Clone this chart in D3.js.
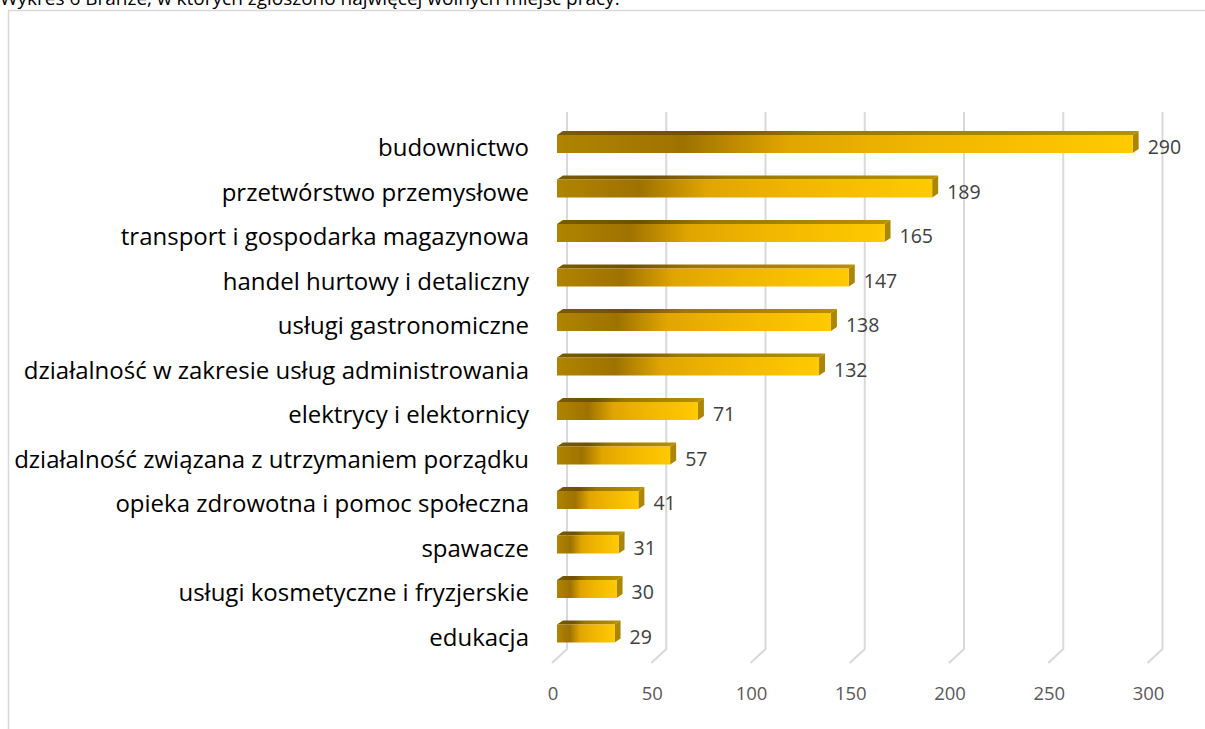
<!DOCTYPE html>
<html>
<head>
<meta charset="utf-8">
<script src="https://cdn.jsdelivr.net/npm/d3@7"></script>
<style>
	body { margin: 0; background: #fff; }
	svg { display: block; }
</style>
</head>
<body>
<svg class="chart"></svg>
<script>
var title = "Wykres 6 Branże, w których zgłoszono najwięcej wolnych miejsc pracy.";

var categories = [
	"budownictwo",
	"przetwórstwo przemysłowe",
	"transport i gospodarka  magazynowa",
	"handel hurtowy i detaliczny",
	"usługi gastronomiczne",
	"działalność w zakresie usług administrowania",
	"elektrycy i elektornicy",
	"działalność związana z utrzymaniem porządku",
	"opieka zdrowotna i pomoc społeczna",
	"spawacze",
	"usługi kosmetyczne i fryzjerskie",
	"edukacja"
];

var values = [290, 189, 165, 147, 138, 132, 71, 57, 41, 31, 30, 29];

var tickValues = [0, 50, 100, 150, 200, 250, 300];

var width = 1205;
var height = 729;
var font = "'Open Sans', 'Liberation Sans', sans-serif";

var svg = d3.select(".chart")
	.attr("width", width)
	.attr("height", height);

// title, mostly cut off by the top edge
svg.append("text")
	.attr("x", 0)
	.attr("y", 5)
	.attr("font-family", font)
	.attr("font-size", 19)
	.attr("fill", "#000")
	.text(title);

// chart frame
svg.append("rect")
	.attr("x", 8.5)
	.attr("y", 10.5)
	.attr("width", width)
	.attr("height", height)
	.attr("fill", "none")
	.attr("stroke", "#d9d9d9")
	.attr("stroke-width", 1.5);

var x = d3.scaleLinear()
	.domain([0, 300])
	.range([557, 1152.5]);

var y = d3.scaleBand()
	.domain(categories)
	.range([121.75, 655.75]);

var barH = 18;
var depthX = 6, depthY = -4;
var gridTop = 112, gridBack = 649, gridFront = 663;

var defs = svg.append("defs");

var front = defs.append("linearGradient").attr("id", "front");
[["0%", "#b08400"], ["22%", "#9e7200"], ["40%", "#e0a500"], ["62%", "#f0b500"], ["100%", "#ffca00"]]
	.forEach(function(s) { front.append("stop").attr("offset", s[0]).attr("stop-color", s[1]); });

var topG = defs.append("linearGradient").attr("id", "top");
[["0%", "#7a5a00"], ["25%", "#6e5000"], ["45%", "#9c7600"], ["100%", "#b89000"]]
	.forEach(function(s) { topG.append("stop").attr("offset", s[0]).attr("stop-color", s[1]); });

// gridlines: back wall plus floor diagonal
var grid = svg.append("g").attr("class", "grid")
	.attr("stroke", "#d9d9d9")
	.attr("stroke-width", 2)
	.attr("fill", "none");

grid.selectAll("path")
	.data(tickValues)
	.enter()
	.append("path")
		.attr("d", function(d) {
			var bx = x(d) + 10;
			return "M" + bx + "," + gridTop + "V" + gridBack + "L" + (bx - 15) + "," + gridFront;
		});

// tick labels
svg.append("g")
	.selectAll("text")
	.data(tickValues)
	.enter()
	.append("text")
		.attr("x", function(d) { return x(d) - 4; })
		.attr("y", 700)
		.attr("text-anchor", "middle")
		.attr("font-family", font)
		.attr("font-size", 18.5)
		.attr("fill", "#595959")
		.text(function(d) { return d; });

// bars
var bars = svg.append("g")
	.selectAll("g")
	.data(values)
	.enter()
	.append("g");

function cy(i) { return y(categories[i]) + y.bandwidth() / 2; }

bars.append("path")
	.attr("fill", "url(#top)")
	.attr("d", function(d, i) {
		var y0 = cy(i) - barH / 2;
		return "M" + x(0) + "," + y0 + "L" + (x(0) + depthX) + "," + (y0 + depthY) +
			"H" + (x(d) + depthX) + "L" + x(d) + "," + y0 + "Z";
	});

bars.append("path")
	.attr("fill", "#ad8600")
	.attr("d", function(d, i) {
		var y0 = cy(i) - barH / 2;
		return "M" + x(d) + "," + y0 + "L" + (x(d) + depthX) + "," + (y0 + depthY) +
			"V" + (y0 + depthY + barH) + "L" + x(d) + "," + (y0 + barH) + "Z";
	});

bars.append("rect")
	.attr("x", x(0))
	.attr("y", function(d, i) { return cy(i) - barH / 2; })
	.attr("width", function(d) { return x(d) - x(0); })
	.attr("height", barH)
	.attr("fill", "url(#front)");

// value labels
bars.append("text")
	.attr("x", function(d) { return x(d) + 15; })
	.attr("y", function(d, i) { return cy(i) + 10; })
	.attr("font-family", font)
	.attr("font-size", 19.5)
	.attr("fill", "#404040")
	.text(function(d) { return d; });

// category labels
svg.append("g")
	.selectAll("text")
	.data(categories)
	.enter()
	.append("text")
		.attr("x", 529)
		.attr("y", function(d, i) { return cy(i) + 12; })
		.attr("text-anchor", "end")
		.attr("font-family", font)
		.attr("font-size", 24)
		.attr("fill", "#000")
		.text(function(d) { return d; });
</script>
</body>
</html>
